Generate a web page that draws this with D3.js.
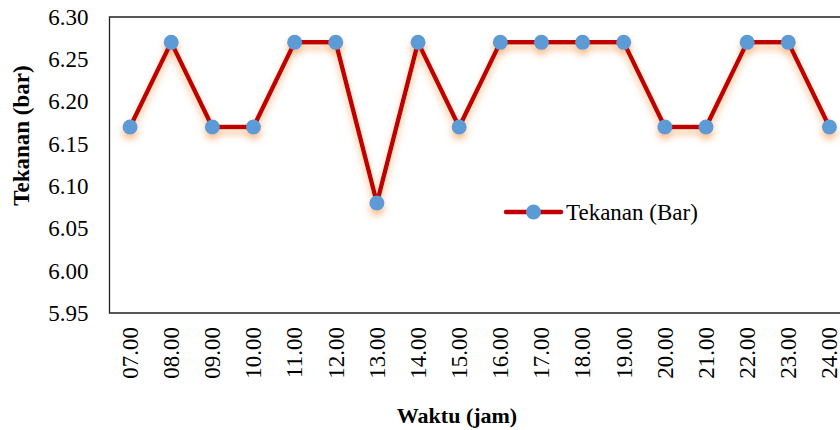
<!DOCTYPE html>
<html>
<head>
<meta charset="utf-8">
<script src="https://cdn.jsdelivr.net/npm/d3@7/dist/d3.min.js"></script>
<style>
  html, body { margin: 0; padding: 0; background: #fff; }
  svg { display: block; font-family: "Liberation Serif", "Times New Roman", serif; }
</style>
</head>
<body>
<svg id="chart" width="840" height="430"></svg>
<script>
// Hourly pressure readings
const hours = ["07.00","08.00","09.00","10.00","11.00","12.00","13.00","14.00","15.00",
               "16.00","17.00","18.00","19.00","20.00","21.00","22.00","23.00","24.00"];
const pressure = [6.17, 6.27, 6.17, 6.17, 6.27, 6.27, 6.08, 6.27, 6.17,
                  6.27, 6.27, 6.27, 6.27, 6.17, 6.17, 6.27, 6.27, 6.17];
const yTicks = [5.95, 6.00, 6.05, 6.10, 6.15, 6.20, 6.25, 6.30];
const seriesName = "Tekanan (Bar)";
const xTitle = "Waktu (jam)";
const yTitle = "Tekanan (bar)";

const FONT = "Liberation Serif, Times New Roman, serif";
const svg = d3.select("#chart");
const plot = { left: 109.5, top: 17, right: 850, bottom: 313 };

const x = d3.scaleBand().domain(hours).range([plot.left, plot.right]).padding(0);
const y = d3.scaleLinear().domain([5.95, 6.30]).range([plot.bottom, plot.top]);
const cx = d => x(d) + x.bandwidth() / 2;

// soft orange glow under the series
const defs = svg.append("defs");
const glow = defs.append("filter").attr("id", "glow")
  .attr("x", "-20%").attr("y", "-20%").attr("width", "140%").attr("height", "160%");
glow.append("feDropShadow").attr("dx", 0).attr("dy", 5).attr("stdDeviation", 3.5)
  .attr("flood-color", "#F4A460").attr("flood-opacity", 0.7);

// plot frame
svg.append("path")
  .attr("d", `M${plot.right},${plot.top}H${plot.left}V${plot.bottom}H${plot.right}`)
  .attr("fill", "none").attr("stroke", "#222").attr("stroke-width", 1.3);

// y axis labels
const yAxis = d3.axisLeft(y).tickValues(yTicks).tickSize(0).tickPadding(21)
  .tickFormat(d3.format(".2f"));
const gy = svg.append("g").attr("transform", `translate(${plot.left},0)`).call(yAxis);
gy.select(".domain").remove();
gy.selectAll("text").attr("font-size", 23).attr("fill", "#000").attr("font-family", FONT);

// x axis labels, rotated
const xAxis = d3.axisBottom(x).tickSize(0);
const gx = svg.append("g").attr("transform", `translate(0,${plot.bottom})`).call(xAxis);
gx.select(".domain").remove();
gx.selectAll("text")
  .attr("font-size", 23).attr("fill", "#000").attr("font-family", FONT)
  .attr("transform", "rotate(-90)")
  .attr("text-anchor", "end")
  .attr("x", -14).attr("y", 0).attr("dy", "0.34em");

// series
const g = svg.append("g").attr("filter", "url(#glow)");
const line = d3.line().x((d, i) => cx(hours[i])).y(d => y(d));
g.append("path").datum(pressure)
  .attr("d", line).attr("fill", "none")
  .attr("stroke", "#C00000").attr("stroke-width", 4.5).attr("stroke-linejoin", "round");
g.selectAll("circle").data(pressure).join("circle")
  .attr("cx", (d, i) => cx(hours[i])).attr("cy", d => y(d)).attr("r", 7.5)
  .attr("fill", "#5B9BD5");

// legend
const lg = svg.append("g").attr("transform", "translate(506,212)");
lg.append("line").attr("x1", 0).attr("x2", 55).attr("y1", 0).attr("y2", 0)
  .attr("stroke", "#C00000").attr("stroke-width", 4.5).attr("stroke-linecap", "round");
lg.append("circle").attr("cx", 27.5).attr("cy", 0).attr("r", 7.5).attr("fill", "#5B9BD5");
lg.append("text").attr("x", 60).attr("y", 0).attr("dy", "0.34em")
  .attr("font-size", 23).attr("font-family", FONT).attr("fill", "#000").text(seriesName);

// axis titles
svg.append("text").attr("x", 457).attr("y", 423).attr("text-anchor", "middle")
  .attr("font-size", 22).attr("font-family", FONT).attr("font-weight", "bold").text(xTitle);
svg.append("text").attr("transform", "translate(29,135.5) rotate(-90)")
  .attr("text-anchor", "middle").attr("font-size", 23).attr("font-family", FONT)
  .attr("font-weight", "bold").text(yTitle);
</script>
</body>
</html>
